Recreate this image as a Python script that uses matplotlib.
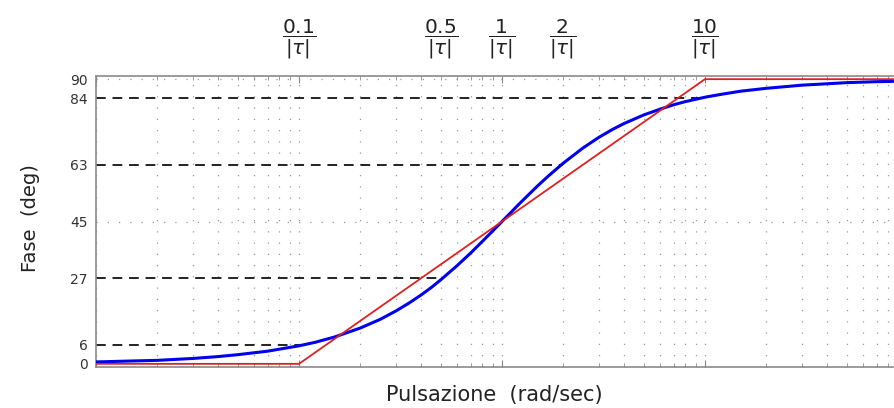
import matplotlib
matplotlib.use("Agg")
import matplotlib.pyplot as plt
from matplotlib.ticker import LogLocator, NullFormatter

# pulsazione normalizzata (w*|tau|) e fase
omega = [0.01, 0.015, 0.02, 0.03, 0.04, 0.05, 0.07, 0.1, 0.12, 0.15, 0.2, 0.25, 0.3,
         0.35, 0.4, 0.45, 0.5, 0.6, 0.7, 0.8, 0.9, 1.0, 1.1, 1.2, 1.3, 1.5, 1.7,
         2.0, 2.5, 3.0, 3.5, 4.0, 5.0, 6.0, 7.0, 8.0, 10.0, 12.0, 15.0, 20.0,
         30.0, 50.0, 70.0, 100.0]
fase = [0.6, 0.9, 1.1, 1.7, 2.3, 2.9, 4.0, 5.7, 6.8, 8.5, 11.3, 14.0, 16.7,
        19.3, 21.8, 24.2, 26.6, 31.0, 35.0, 38.7, 42.0, 45.0, 47.7, 50.2, 52.4, 56.3, 59.5,
        63.4, 68.2, 71.6, 74.1, 76.0, 78.7, 80.5, 81.9, 82.9, 84.3, 85.2, 86.2, 87.1,
        88.1, 88.9, 89.2, 89.4]

# diagramma asintotico
asin_w = [0.01, 0.1, 10, 100]
asin_f = [0, 0, 90, 90]

# linee tratteggiate di riferimento
livelli = [6, 27, 63, 84]
fine_livelli = [0.1, 0.5, 2, 10]

yticks = [0, 6, 27, 45, 63, 84, 90]
griglia_y = [45, 90]

top_ticks = [0.1, 0.5, 1, 2, 10]
top_labels = [r"$\dfrac{0.1}{|\tau|}$", r"$\dfrac{0.5}{|\tau|}$",
              r"$\dfrac{1}{|\tau|}$", r"$\dfrac{2}{|\tau|}$",
              r"$\dfrac{10}{|\tau|}$"]

plt.rcParams["font.family"] = ["DejaVu Sans"]
plt.rcParams["mathtext.fontset"] = "dejavusans"

fig = plt.figure(figsize=(8.94, 4.08), dpi=100)
ax = fig.add_axes([96 / 894, 41 / 408, 812 / 894, 291 / 408])

grid_col = "#9a9a9a"
ax.set_xscale("log")
ax.set_xlim(0.01, 100)
ax.set_ylim(-1, 91)

ax.grid(True, which="both", axis="x", color=grid_col, linestyle=(0, (1, 8)), linewidth=0.9)
for g in griglia_y:
    ax.axhline(g, color=grid_col, linestyle=(0, (1, 8)), linewidth=0.9, zorder=1)

for lv, fe in zip(livelli, fine_livelli):
    ax.plot([0.01, fe], [lv, lv], color="#222222", linestyle=(0, (5, 3.5)), linewidth=1.4, zorder=2)

ax.plot(asin_w, asin_f, color="#dd2020", linewidth=1.3, zorder=4)
ax.plot(omega, fase, color="#0000ee", linewidth=2.2, zorder=3)

ax.set_yticks(yticks)
ax.set_yticklabels([str(v) for v in yticks])
ax.tick_params(axis="y", length=0, labelsize=10, colors="#333333", pad=6)
ax.xaxis.set_major_locator(LogLocator(base=10))
ax.xaxis.set_minor_locator(LogLocator(base=10, subs=range(2, 10)))
ax.xaxis.set_minor_formatter(NullFormatter())
ax.tick_params(axis="x", which="both", direction="in", top=True, labelbottom=False,
               color="#888888", length=3)
ax.tick_params(axis="x", which="major", length=5)

for s in ["left", "bottom", "top"]:
    ax.spines[s].set_color("#8a8a8a")
    ax.spines[s].set_linewidth(1.2)
ax.spines["right"].set_visible(False)

sec = ax.secondary_xaxis("top")
sec.set_xticks(top_ticks)
sec.set_xticklabels(top_labels)
sec.xaxis.set_minor_locator(LogLocator(base=10, subs=range(2, 10)))
sec.xaxis.set_minor_formatter(NullFormatter())
sec.tick_params(axis="x", which="both", length=0, labelsize=14.5, pad=11, colors="#222222")
sec.spines["top"].set_visible(False)

fig.text(494 / 894, 1 - 395 / 408, "Pulsazione  (rad/sec)", ha="center", va="center",
         fontsize=15, color="#222222")
fig.text(30 / 894, 1 - 218 / 408, "Fase  (deg)", ha="center", va="center",
         rotation=90, fontsize=14, color="#222222")

fig.savefig("out.png", dpi=100)
